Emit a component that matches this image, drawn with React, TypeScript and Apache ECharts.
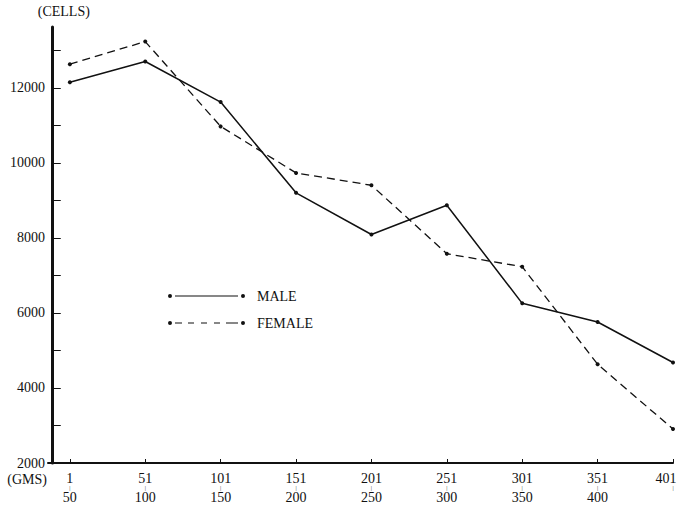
import React, { useEffect, useRef } from "react";
import * as echarts from "echarts";

const xFirst = ["1", "51", "101", "151", "201", "251", "301", "351", "401"];
const xSecond = ["50", "100", "150", "200", "250", "300", "350", "400", ""];
const maleCells = [12150, 12700, 11620, 9200, 8090, 8870, 6255, 5758, 4678];
const femaleCells = [12630, 13231, 10971, 9731, 9402, 7577, 7231, 4633, 2904];
const yLabelTicks = [2000, 4000, 6000, 8000, 10000, 12000];
const yAllTicks = [2000, 3000, 4000, 5000, 6000, 7000, 8000, 9000, 10000, 11000, 12000, 13000];
const seriesNames = ["MALE", "FEMALE"];

const FONT = "'Liberation Serif', 'DejaVu Serif', serif";
const INK = "#111";

const dot = (cx: number) => `M${cx - 2},2a2,2 0 1,0 4,0a2,2 0 1,0 -4,0Z`;
const maleIcon = "path://" + dot(2) + "M7,1.4h63v1.2h-63Z" + dot(75);
const femaleIcon =
  "path://" +
  dot(2) +
  "M7,1.4h7v1.2h-7Z M20,1.4h6v1.2h-6Z M33,1.4h6v1.2h-6Z M46,1.4h6v1.2h-6Z M58,1.4h12v1.2h-12Z" +
  dot(75);

// class k (0-based) sits at x = k + LEAD; the y axis line stands on x = 0
const LEAD = 0.24;
const pos = (k: number) => k + LEAD;
const X_MIN = -0.05;
const X_MAX = pos(xFirst.length - 1);

export default function App() {
  const ref = useRef<HTMLDivElement>(null);
  useEffect(() => {
    if (!ref.current) return;
    const chart = echarts.init(ref.current, undefined, { renderer: "svg" });
    const xs = xFirst.map((_, i) => pos(i));
    chart.setOption({
      animation: false,
      backgroundColor: "#fff",
      textStyle: { fontFamily: FONT, color: INK },
      grid: { left: 48, right: 7, top: 27, bottom: 42, containLabel: false, outerBoundsMode: "none" },
      legend: {
        orient: "vertical",
        left: 163,
        top: 283,
        itemWidth: 77,
        itemHeight: 4,
        itemGap: 11,
        selectedMode: false,
        symbolKeepAspect: false,
        itemStyle: { borderWidth: 0 },
        textStyle: { fontFamily: FONT, fontSize: 14, color: INK, lineHeight: 16, padding: [0, 0, 0, 7] },
        data: [
          { name: seriesNames[0], icon: maleIcon },
          { name: seriesNames[1], icon: femaleIcon },
        ],
      },
      xAxis: {
        type: "value",
        min: X_MIN,
        max: X_MAX,
        name: "(GMS)",
        nameLocation: "start",
        nameGap: 1,
        nameTextStyle: { fontFamily: FONT, fontSize: 14, color: INK, verticalAlign: "top", padding: [9, 0, 0, 0] },
        axisLine: { show: true, lineStyle: { color: INK, width: 2 } },
        splitLine: { show: false },
        axisTick: { show: true, inside: true, length: 4, customValues: xs, lineStyle: { color: INK, width: 1 } },
        axisLabel: {
          customValues: xs,
          margin: 9,
          color: INK,
          fontFamily: FONT,
          fontSize: 13,
          lineHeight: 13,
          formatter: (v: number) => {
            const i = Math.round(v - LEAD);
            const st = i === xFirst.length - 1 ? "r" : "a";
            return `{${st}|${xFirst[i]}}\n{m||}\n{${st}|${xSecond[i] || " "}}`;
          },
          rich: {
            a: { fontFamily: FONT, fontSize: 14, lineHeight: 13, color: INK },
            r: { fontFamily: FONT, fontSize: 14, lineHeight: 13, color: INK, padding: [0, 14, 0, 0] },
            m: { fontFamily: FONT, fontSize: 6, lineHeight: 6, color: INK },
          },
        },
      },
      yAxis: {
        type: "value",
        min: 2000,
        max: 13620,
        name: "(CELLS)",
        nameLocation: "end",
        nameGap: 9,
        nameTextStyle: { fontFamily: FONT, fontSize: 14, color: INK, padding: [0, 0, 0, 24] },
        axisLine: { show: true, lineStyle: { color: INK, width: 3 } },
        splitLine: { show: false },
        axisTick: { show: true, inside: true, length: 9, customValues: yAllTicks, lineStyle: { color: INK, width: 1 } },
        axisLabel: {
          customValues: yLabelTicks,
          margin: 3,
          color: INK,
          fontFamily: FONT,
          fontSize: 14,
          formatter: (v: number) => String(v),
        },
      },
      series: [
        {
          name: seriesNames[0],
          type: "line",
          data: maleCells.map((v, i) => [pos(i), v]),
          symbol: "circle",
          symbolSize: 4,
          itemStyle: { color: INK },
          lineStyle: { color: INK, width: 1.5, type: "solid" },
        },
        {
          name: seriesNames[1],
          type: "line",
          data: femaleCells.map((v, i) => [pos(i), v]),
          symbol: "circle",
          symbolSize: 4,
          itemStyle: { color: INK },
          lineStyle: { color: INK, width: 1.3, type: [8, 5] },
        },
      ],
    });
    return () => chart.dispose();
  }, []);
  return (
    <div
      ref={ref}
      style={{ position: "fixed", left: 0, top: 0, width: 680, height: 505, background: "#fff" }}
    />
  );
}
